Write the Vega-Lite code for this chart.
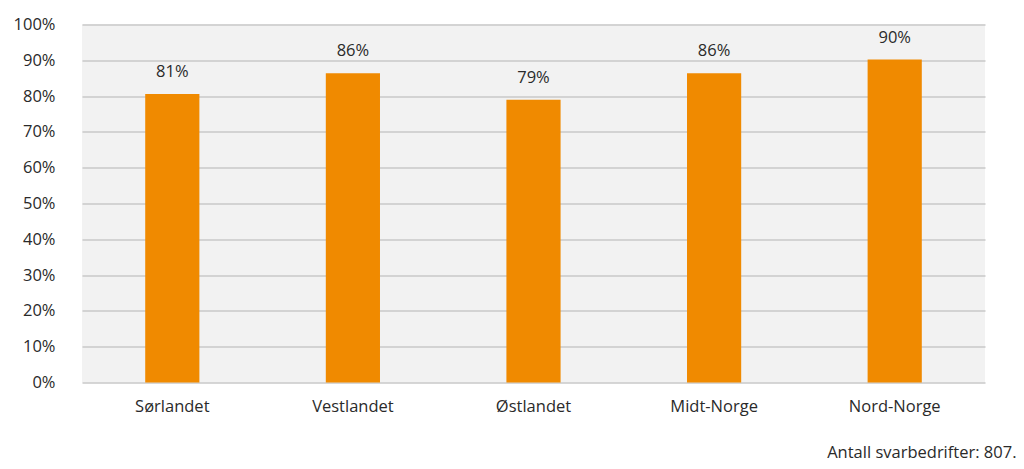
{
  "$schema": "https://vega.github.io/schema/vega-lite/v6.json",
  "autosize": {"type": "none"},
  "width": 903,
  "height": 358,
  "padding": {"left": 82, "top": 24.5, "right": 39, "bottom": 86},
  "background": "white",
  "config": {
    "view": {"fill": "#F2F2F2", "stroke": null},
    "font": "Open Sans",
    "axis": {"labelFont": "Open Sans", "labelFontSize": 16.5, "labelColor": "#2a2a2a", "titleFont": "Open Sans"}
  },
  "data": {
    "values": [
      {"region": "Sørlandet", "andel": 80.6, "label": "81%"},
      {"region": "Vestlandet", "andel": 86.4, "label": "86%"},
      {"region": "Østlandet", "andel": 79.0, "label": "79%"},
      {"region": "Midt-Norge", "andel": 86.4, "label": "86%"},
      {"region": "Nord-Norge", "andel": 90.2, "label": "90%"}
    ]
  },
  "encoding": {
    "x": {
      "field": "region",
      "type": "nominal",
      "sort": null,
      "scale": {"paddingInner": 0.7, "paddingOuter": 0.35},
      "axis": {
        "labelAngle": 0,
        "domain": false,
        "ticks": false,
        "labelPadding": 16,
        "title": "Antall svarbedrifter: 807.",
        "titleFontSize": 16.5,
        "titleFontWeight": "normal",
        "titleColor": "#2a2a2a",
        "titleAlign": "right",
        "titleAnchor": null,
        "titleX": 934,
        "titleY": 70,
        "titleBaseline": "middle"
      }
    },
    "y": {
      "field": "andel",
      "type": "quantitative",
      "scale": {"domain": [0, 100]},
      "axis": {
        "values": [0, 10, 20, 30, 40, 50, 60, 70, 80, 90, 100],
        "labelExpr": "datum.value + '%'",
        "domain": false,
        "ticks": false,
        "labelPadding": 27,
        "labelOverlap": false,
        "gridColor": "#C8C8C8",
        "gridWidth": 1.5,
        "title": null
      }
    }
  },
  "layer": [
    {
      "mark": {"type": "bar", "color": "#F08A00"}
    },
    {
      "mark": {"type": "text", "fontSize": 16.5, "color": "#2a2a2a", "dy": -17, "baseline": "alphabetic"},
      "encoding": {
        "text": {"field": "label"}
      }
    }
  ]
}
